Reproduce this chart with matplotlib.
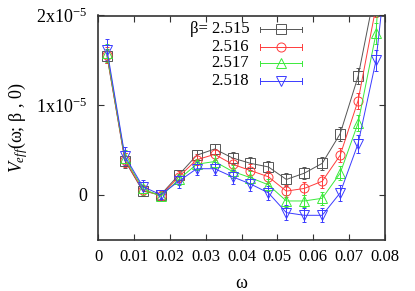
import matplotlib
matplotlib.use("Agg")
import matplotlib.pyplot as plt
from matplotlib.lines import Line2D
import numpy as np

plt.rcParams['font.family'] = ['Liberation Serif', 'DejaVu Serif']
plt.rcParams['mathtext.fontset'] = 'custom'
plt.rcParams['mathtext.rm'] = 'Liberation Serif'
plt.rcParams['mathtext.it'] = 'Liberation Serif:italic'

omega = [0.0025, 0.0075, 0.0125, 0.0175, 0.0225, 0.0275, 0.0325, 0.0375,
         0.0425, 0.0475, 0.0525, 0.0575, 0.0625, 0.0675, 0.0725, 0.0775, 0.0825]

labels = ["β= 2.515", "2.516", "2.517", "2.518"]

# values in units of 1e-5
v2515 = [1.55, 0.38, 0.04, 0.00, 0.22, 0.44, 0.51, 0.41, 0.35, 0.31, 0.17, 0.24, 0.35, 0.68, 1.32, 2.33, 3.6]
v2516 = [1.56, 0.39, 0.05, -0.01, 0.20, 0.39, 0.45, 0.34, 0.27, 0.20, 0.04, 0.07, 0.15, 0.44, 1.05, 2.10, 3.4]
v2517 = [1.58, 0.41, 0.07, -0.02, 0.17, 0.34, 0.37, 0.26, 0.19, 0.11, -0.07, -0.07, -0.04, 0.24, 0.80, 1.80, 5.0]
v2518 = [1.62, 0.43, 0.09, 0.00, 0.15, 0.29, 0.29, 0.20, 0.12, 0.02, -0.20, -0.23, -0.23, 0.02, 0.57, 1.50, 3.3]

e2515 = [0.08, 0.08, 0.06, 0.05, 0.06, 0.06, 0.06, 0.07, 0.07, 0.07, 0.07, 0.07, 0.07, 0.08, 0.09, 0.12, 0.15]
e2516 = [0.09, 0.08, 0.06, 0.05, 0.06, 0.06, 0.06, 0.07, 0.07, 0.07, 0.07, 0.07, 0.07, 0.08, 0.09, 0.12, 0.15]
e2517 = [0.10, 0.09, 0.07, 0.05, 0.06, 0.06, 0.07, 0.07, 0.07, 0.07, 0.07, 0.07, 0.07, 0.08, 0.09, 0.12, 0.15]
e2518 = [0.12, 0.10, 0.07, 0.05, 0.07, 0.07, 0.07, 0.08, 0.08, 0.08, 0.08, 0.08, 0.08, 0.09, 0.10, 0.12, 0.15]

series = [v2515, v2516, v2517, v2518]
errors = [e2515, e2516, e2517, e2518]
colors = ['#555555', '#ff3b3b', '#3bea3b', '#3b3bff']
markers = ['s', 'o', '^', 'v']

W, H = 415, 291
fig = plt.figure(figsize=(W / 100, H / 100), dpi=100)
ax = fig.add_axes([98 / W, (H - 239.5) / H, 287 / W, 224 / H])

scale = 1e-5
for v, e, c, m in zip(series, errors, colors, markers):
    ax.errorbar(omega, np.array(v) * scale, yerr=np.array(e) * scale,
                color=c, lw=0.7, marker=m, markersize=6.5, mfc='none', mec=c,
                mew=0.7, capsize=1.5, elinewidth=0.7, capthick=0.7, zorder=3)

ax.set_xlim(0, 0.08)
ax.set_ylim(-0.5e-5, 2e-5)
ax.set_xticks(np.arange(0, 0.0801, 0.01))
ax.set_xticklabels(['0', '0.01', '0.02', '0.03', '0.04', '0.05', '0.06', '0.07', '0.08'])
ax.set_yticks([0, 1e-5, 2e-5])
ax.set_yticklabels(['0', r'1x10$^{-5}$', r'2x10$^{-5}$'])
ax.tick_params(direction='in', length=4, width=0.8, top=True, right=True,
               labelsize=13, pad=8, color='#333333')
ax.tick_params(axis='x', labelsize=12, pad=7)
for s in ax.spines.values():
    s.set_color('#333333')
    s.set_linewidth(1.2)

ax.set_xlabel('ω', fontsize=13, labelpad=7)
ax.set_ylabel(r'$V_{eff}$(ω; β , 0)', fontsize=13, labelpad=4)

# gnuplot-style key
rows = [0.938, 0.859, 0.787, 0.708]
for y, lab, c, m in zip(rows, labels, colors, markers):
    ax.text(0.527, y, lab, transform=ax.transAxes, ha='right', va='center', fontsize=12)
    ax.add_line(Line2D([0.564, 0.711], [y, y], transform=ax.transAxes, color=c, lw=0.7))
    ax.add_line(Line2D([0.564, 0.564], [y - 0.012, y + 0.012], transform=ax.transAxes, color=c, lw=0.7))
    ax.add_line(Line2D([0.711, 0.711], [y - 0.012, y + 0.012], transform=ax.transAxes, color=c, lw=0.7))
    ax.add_line(Line2D([0.637], [y], transform=ax.transAxes, color=c, marker=m,
                       markersize=6.5, mfc='none', mec=c, mew=0.7, lw=0))

fig.savefig('out.png', dpi=100)
